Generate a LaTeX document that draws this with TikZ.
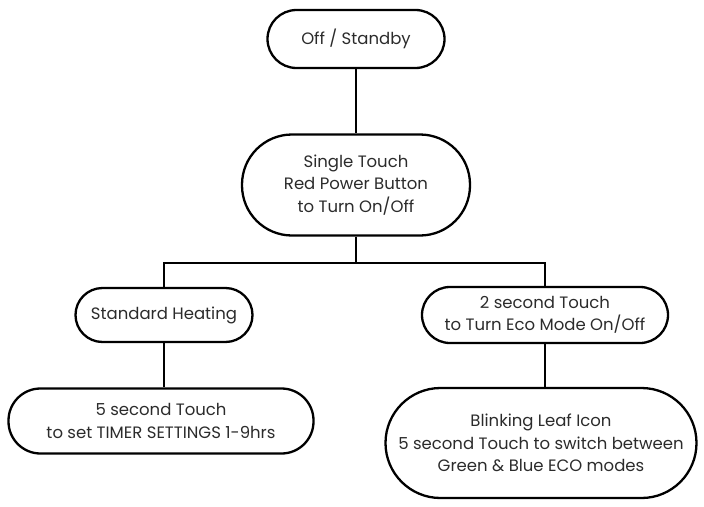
\documentclass[tikz,border=0pt]{standalone}
\usepackage{fontspec}
\setmainfont{Poppins}
\definecolor{txt}{HTML}{2B2B2B}
\begin{document}
\begin{tikzpicture}[x=1pt,y=-1pt,
  box/.style={draw=black,line width=2.3pt,align=center,inner sep=0pt,text=txt,font=\fontsize{16.5}{22.5}\selectfont},
  link/.style={line width=2.5pt}]
\useasboundingbox (0,0) rectangle (704,506);
\node[box,minimum width=177pt,minimum height=58pt,rounded corners=29pt] (off) at (356,39) {Off / Standby};
\node[box,minimum width=228pt,minimum height=101pt,rounded corners=50pt] (single) at (356,185) {Single Touch\\Red Power Button\\to Turn On/Off};
\node[box,minimum width=177pt,minimum height=54pt,rounded corners=27pt] (std) at (164,315) {Standard Heating};
\node[box,minimum width=246pt,minimum height=56pt,rounded corners=28pt] (eco) at (545,315) {2 second Touch\\to Turn Eco Mode On/Off};
\node[box,minimum width=305pt,minimum height=65pt,rounded corners=32pt] (timer) at (161,421) {5 second Touch\\to set TIMER SETTINGS 1-9hrs};
\node[box,minimum width=311pt,minimum height=110pt,rounded corners=55pt] (leaf) at (541,443) {Blinking Leaf Icon\\5 second Touch to switch between\\Green \& Blue ECO modes};
\coordinate (j) at (356,263);
\draw[link] (off) -- (single);
\draw[link] (single) -- (j);
\draw[link] (std.north) |- (j) -| (eco.north);
\draw[link] (std.south) -- (std.south |- timer.north);
\draw[link] (eco.south) -- (eco.south |- leaf.north);
\end{tikzpicture}
\end{document}
